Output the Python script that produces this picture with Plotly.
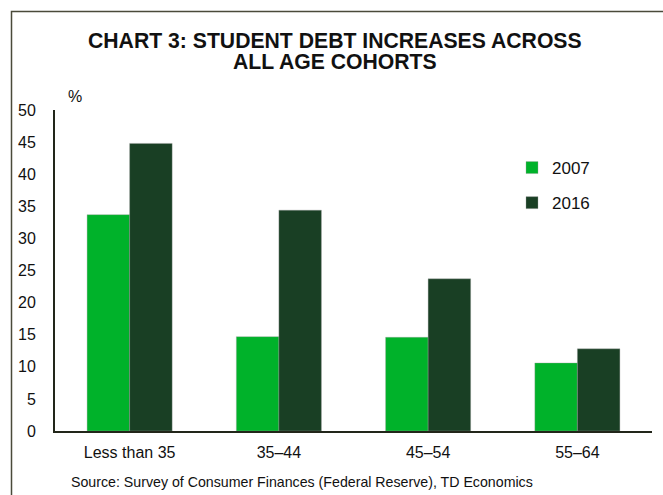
import plotly.graph_objects as go

W, H = 663, 495
ML, MR, MT, MB = 55, 11, 110, 64

categories = ["Less than 35", "35–44", "45–54", "55–64"]
series_names = ["2007", "2016"]
values_2007 = [33.7, 14.7, 14.6, 10.6]
values_2016 = [44.8, 34.4, 23.7, 12.8]
y_ticks = [0, 5, 10, 15, 20, 25, 30, 35, 40, 45, 50]
colors = ["#00B22A", "#193F24"]

FONT = "Arial, 'Liberation Sans', sans-serif"
PW = W - ML - MR
PH = H - MT - MB


def px_x(x):
    return (x - ML) / PW


def px_y(y):
    return (H - MB - y) / PH


fig = go.Figure()
for name, vals, col, grp in zip(series_names, [values_2007, values_2016], colors, ["a", "b"]):
    fig.add_trace(go.Bar(
        x=categories, y=vals, name=name, legendgroup=grp,
        marker=dict(color=col, line=dict(color="rgba(160,160,160,0.6)", width=0.6)),
    ))

fig.update_layout(
    width=W, height=H,
    margin=dict(l=ML, r=MR, t=MT, b=MB, pad=0),
    paper_bgcolor="white", plot_bgcolor="white",
    barmode="group", bargap=0.43, bargroupgap=0,
    font=dict(family=FONT, size=16, color="#111111"),
    showlegend=True,
    legend=dict(
        x=px_x(512), y=px_y(150), xanchor="left", yanchor="top",
        font=dict(size=17, color="#111111"),
        bgcolor="rgba(0,0,0,0)", tracegroupgap=10, itemwidth=30,
    ),
    xaxis=dict(
        showline=True, linecolor="#22261a", linewidth=2,
        showgrid=False, ticks="", tickfont=dict(size=16),
        ticklabelstandoff=6,
    ),
    yaxis=dict(
        range=[0, 50], tickvals=y_ticks, ticktext=[str(v) for v in y_ticks],
        showline=True, linecolor="#22261a", linewidth=2,
        showgrid=False, zeroline=False, ticks="", tickfont=dict(size=16),
        ticklabelstandoff=14,
    ),
    shapes=[
        dict(type="rect", xref="paper", yref="paper",
             x0=px_x(11.5), x1=px_x(720), y0=px_y(560), y1=px_y(11.5),
             line=dict(color="#4a4a3a", width=1.5), fillcolor="rgba(0,0,0,0)", layer="above"),
    ],
    annotations=[
        dict(text="<b>CHART 3: STUDENT DEBT INCREASES ACROSS</b>", xref="paper", yref="paper",
             x=px_x(335), y=px_y(40.5), xanchor="center", yanchor="middle", showarrow=False,
             font=dict(size=21.2, color="#111111")),
        dict(text="<b>ALL AGE COHORTS</b>", xref="paper", yref="paper",
             x=px_x(335), y=px_y(62), xanchor="center", yanchor="middle", showarrow=False,
             font=dict(size=21.2, color="#111111")),
        dict(text="%", xref="paper", yref="paper",
             x=px_x(66), y=px_y(96), xanchor="left", yanchor="middle", showarrow=False,
             font=dict(size=16, color="#111111")),
        dict(text="Source: Survey of Consumer Finances (Federal Reserve), TD Economics",
             xref="paper", yref="paper",
             x=px_x(69), y=px_y(482), xanchor="left", yanchor="middle", showarrow=False,
             font=dict(size=14.2, color="#111111")),
    ],
)

fig.write_html("out.html")
